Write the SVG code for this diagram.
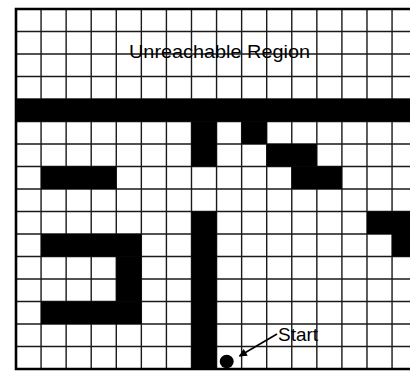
<svg xmlns="http://www.w3.org/2000/svg" width="410" height="371" viewBox="0 0 410 371">
<defs>
<style>
.grid{stroke:#1a1a1a;stroke-width:1.4;fill:none}
.border{stroke:#000;stroke-width:2.6;fill:none}
.wall{fill:#000}
.lbl{font-family:"Liberation Sans",Arial,sans-serif;font-size:18.5px;fill:#000}
.conn{stroke:#000;stroke-width:1.6;fill:none}
</style>
<marker id="ah" viewBox="0 0 10 10" refX="9" refY="5" markerWidth="6" markerHeight="5" orient="auto" markerUnits="strokeWidth">
<path d="M0,0 L10,5 L0,10 z" fill="#000"/>
</marker>
</defs>
<rect width="410" height="371" fill="#fff"/>
<g id="grid">
<path class="grid" d="M41.07,9V369 M66.14,9V369 M91.21,9V369 M116.28,9V369 M141.35,9V369 M166.42,9V369 M191.49,9V369 M216.56,9V369 M241.63,9V369 M266.7,9V369 M291.77,9V369 M316.84,9V369 M341.91,9V369 M366.98,9V369 M392.05,9V369 M16,31.5H410 M16,54H410 M16,76.5H410 M16,99H410 M16,121.5H410 M16,144H410 M16,166.5H410 M16,189H410 M16,211.5H410 M16,234H410 M16,256.5H410 M16,279H410 M16,301.5H410 M16,324H410 M16,346.5H410"/>
<path class="border" d="M410,9H16V369H410"/>
</g>
<g id="walls" class="wall">
<rect x="16" y="99" width="394" height="22.5"/>
<rect x="191.49" y="121.5" width="25.07" height="45"/>
<rect x="241.63" y="121.5" width="25.07" height="22.5"/>
<rect x="266.7" y="144" width="50.14" height="22.5"/>
<rect x="41.07" y="166.5" width="75.21" height="22.5"/>
<rect x="291.77" y="166.5" width="50.14" height="22.5"/>
<rect x="191.49" y="211.5" width="25.07" height="157.5"/>
<rect x="366.98" y="211.5" width="43.02" height="22.5"/>
<rect x="392.05" y="234" width="17.95" height="22.5"/>
<rect x="41.07" y="234" width="100.28" height="22.5"/>
<rect x="116.28" y="256.5" width="25.07" height="45"/>
<rect x="41.07" y="301.5" width="100.28" height="22.5"/>
</g>
<g id="region-label">
<text class="lbl" x="129" y="58" textLength="181" lengthAdjust="spacingAndGlyphs">Unreachable Region</text>
</g>
<g id="start">
<ellipse cx="226.7" cy="361.5" rx="7" ry="6.7" fill="#000"/>
<text class="lbl" x="278" y="341" textLength="40" lengthAdjust="spacingAndGlyphs">Start</text>
</g>
<g id="connectors">
<path class="conn" d="M277,334 L239.5,356" marker-end="url(#ah)"/>
</g>
</svg>
